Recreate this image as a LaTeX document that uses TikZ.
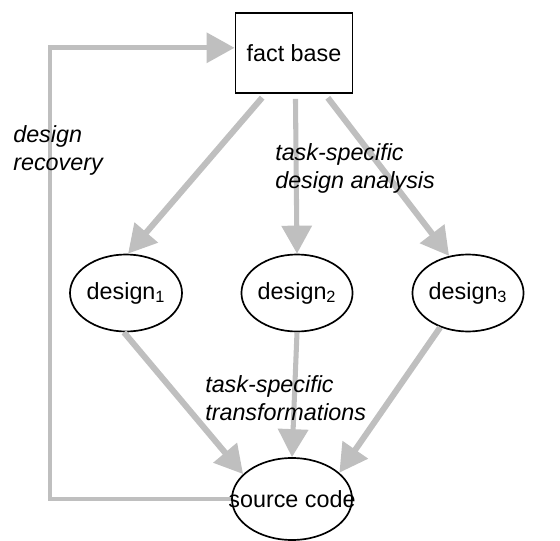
\documentclass[tikz,border=0pt]{standalone}
\usepackage{fontspec}
\setmainfont{Liberation Sans}
\usetikzlibrary{shapes.geometric,arrows.meta}
\begin{document}
\begin{tikzpicture}[font=\fontsize{16.6}{19.8}\selectfont,
  flow/.style={draw=gray!50,line width=4.3pt,-{Triangle[length=0.7cm,width=0.74cm]}},
  dnode/.style={ellipse,draw,line width=1.2pt,minimum width=2.8cm,minimum height=1.925cm,inner sep=0pt},
  lbl/.style={anchor=north west,align=left,inner sep=0pt,font=\fontsize{16.6}{19.8}\selectfont\itshape}]
\useasboundingbox (0,0) rectangle (14,13.5);
%Khung fact base
\node[draw,line width=1.4pt,minimum width=2.925cm,minimum height=2cm] (fb) at (7.35,12.175) {fact base};
%Cac design
\node[dnode] (d1) at (3.15,6.175) {design\textsubscript{1}};
\node[dnode,minimum width=2.75cm] (d2) at (7.425,6.175) {design\textsubscript{2}};
\node[dnode,minimum width=2.7cm] (d3) at (11.7,6.175) {design\textsubscript{3}};
%Source code
\node[dnode,minimum width=3cm,minimum height=2.05cm,label=center:source code] (src) at (7.3,1.025) {};
%Mui ten tu fact base
\draw[flow,shorten <=0.12cm] (fb.-125) -- (d1.87);
\draw[flow,line width=3.6pt,shorten <=0.12cm] (fb.-88) -- (d2.north);
\draw[flow,shorten <=0.12cm] (fb.-53) -- (d3.117);
%Mui ten vao source code
\draw[flow] (d1.-93) -- (src.153);
\draw[flow,line width=3.6pt] (d2.south) -- (src.north);
\draw[flow] (d3.-129) -- (src.29);
%Design recovery
\coordinate (turn) at (1.25,7);
\draw[flow,line width=3.4pt] (src.west) -| (turn) |- (fb.175);
%Nhan
\node[lbl] (rec) at (0.325,10.375) {design\\recovery};
\node[lbl] (ana) at (6.875,9.925) {task-specific\\design analysis};
\node[lbl] (trf) at (5.125,4.125) {task-specific\\transformations};
\end{tikzpicture}
\end{document}
